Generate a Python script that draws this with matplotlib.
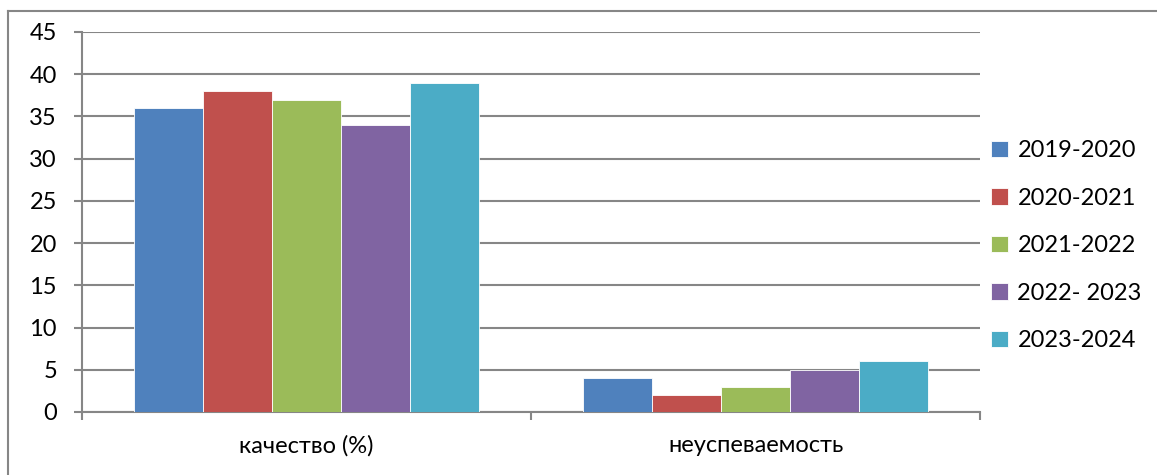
import matplotlib
matplotlib.use("Agg")
import matplotlib.pyplot as plt
import numpy as np
from matplotlib.lines import Line2D

categories = ["качество (%)", "неуспеваемость"]
series_names = ["2019-2020", "2020-2021", "2021-2022", "2022- 2023", "2023-2024"]
values = {
    "2019-2020": [36, 4],
    "2020-2021": [38, 2],
    "2021-2022": [37, 3],
    "2022- 2023": [34, 5],
    "2023-2024": [39, 6],
}
colors = ["#4F81BD", "#C0504D", "#9BBB59", "#8064A2", "#4BACC6"]
yticks = [0, 5, 10, 15, 20, 25, 30, 35, 40, 45]

plt.rcParams['font.family'] = ['Lato', 'DejaVu Sans']
FS = 17

W, H = 1157, 475
fig = plt.figure(figsize=(W / 100, H / 100), dpi=100)
ax = fig.add_axes([82 / W, 1 - 412 / H, (980 - 82) / W, (412 - 32) / H])

n = len(series_names)
group = 5 / 6.5
bw = group / n
x = np.arange(len(categories))
for i, (name, c) in enumerate(zip(series_names, colors)):
    offs = -group / 2 + bw * (i + 0.5)
    ax.bar(x + offs, values[name], width=bw, color=c, label=name,
           edgecolor='white', linewidth=0.6, zorder=3)

ax.set_xlim(-0.5, 1.5)
ax.set_ylim(0, 45)
ax.set_yticks(yticks)
ax.set_yticklabels([str(t) for t in yticks], fontsize=FS)
ax.yaxis.grid(True, color='#868686', linewidth=1.5, zorder=0)
ax.set_axisbelow(True)
for s in ['top', 'right']:
    ax.spines[s].set_visible(False)
for s in ['left', 'bottom']:
    ax.spines[s].set_color('#868686')
    ax.spines[s].set_linewidth(1.5)
ax.tick_params(axis='y', length=6, width=1.5, color='#868686', pad=12)
ax.set_xticks([-0.5, 0.5, 1.5])
ax.set_xticklabels([])
ax.tick_params(axis='x', length=6, width=1.5, color='#868686')
for xi, cat in zip(x, categories):
    ax.text(xi, -4.0, cat, ha='center', va='center', fontsize=FS,
            transform=ax.transData, clip_on=False)

leg = fig.legend(loc='upper left', bbox_to_anchor=(982 / W, 1 - 131 / H),
                 frameon=False, fontsize=FS, handlelength=0.7,
                 handleheight=0.7, handletextpad=0.4, labelspacing=1.12,
                 borderaxespad=0)

fig.add_artist(Line2D([8 / W, 1], [1 - 11 / H, 1 - 11 / H], transform=fig.transFigure,
                      color='#868686', linewidth=1.5))
fig.add_artist(Line2D([8 / W, 8 / W], [0, 1 - 11 / H], transform=fig.transFigure,
                      color='#868686', linewidth=1.5))

fig.savefig("out.png", dpi=100, facecolor='white')
